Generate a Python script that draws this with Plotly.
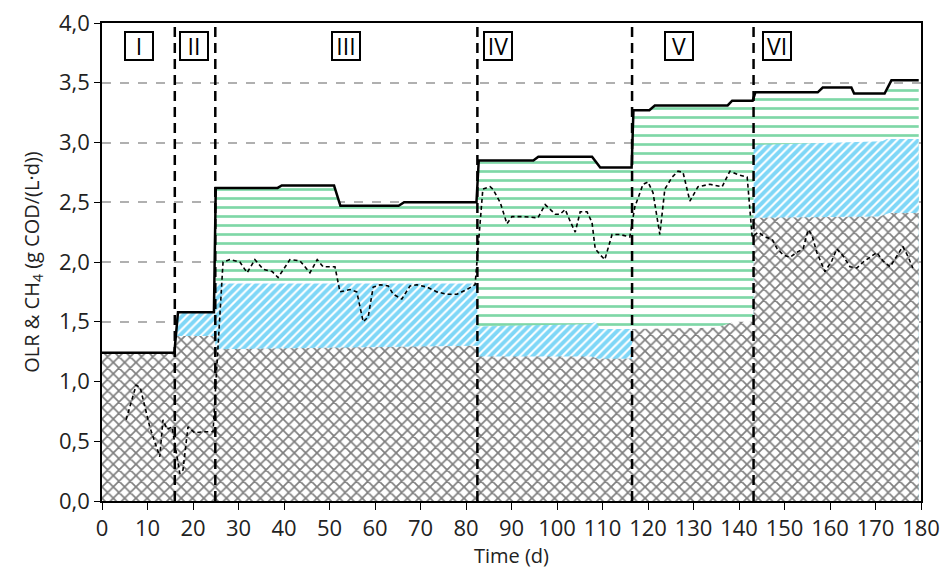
import plotly.graph_objects as go

# ---------------- data ----------------
# OLR (top solid line)
olr_x = [0, 15.9, 16.7, 24.6, 25.0, 38.6, 39.5, 51.0, 52.4, 65.2, 66.4, 82.3, 82.8, 94.8, 95.9,
         107.7, 109.5, 116.4, 116.8, 120.3, 121.5, 137.5, 138.5, 143.0, 143.6, 157.3, 158.4,
         164.7, 165.3, 172.0, 173.5, 179.5]
olr_y = [1.24, 1.24, 1.58, 1.58, 2.62, 2.62, 2.64, 2.64, 2.47, 2.47, 2.50, 2.50, 2.85, 2.85, 2.88,
         2.88, 2.79, 2.79, 3.27, 3.27, 3.31, 3.31, 3.35, 3.35, 3.42, 3.42, 3.46,
         3.46, 3.41, 3.41, 3.52, 3.52]

# top of green (horizontal dashes) layer
green_x = [25.0, 38.6, 39.5, 51.0, 52.4, 65.2, 66.4, 82.5, 82.5, 94.8, 95.9, 107.7, 109.5, 116.5,
           116.5, 120.3, 121.5, 137.5, 138.5, 143.2, 143.2, 172.0, 173.5, 179.5]
green_y = [2.61, 2.61, 2.63, 2.63, 2.46, 2.46, 2.49, 2.49, 2.84, 2.84, 2.87, 2.87, 2.78, 2.78,
           3.26, 3.26, 3.30, 3.30, 3.34, 3.34, 3.40, 3.40, 3.49, 3.49]

# top of blue (diagonal hatch) layer
blue_x = [15.9, 16.7, 24.9, 24.9, 82.5, 82.5, 107.0, 108.5, 109.5, 116.5, 116.5, 143.2, 143.2,
          171.5, 172.5, 179.5]
blue_y = [1.24, 1.58, 1.58, 1.82, 1.82, 1.46, 1.48, 1.50, 1.44, 1.44, 1.40, 1.40, 2.98,
          3.01, 3.03, 3.03]

# top of black (wavy) base layer
base_x = [0, 15.9, 16.4, 24.9, 24.9, 82.5, 82.5, 107.5, 109.0, 116.5, 116.5, 135.0, 139.0,
          143.2, 143.2, 171.0, 173.0, 179.5]
base_y = [1.24, 1.24, 1.38, 1.38, 1.27, 1.30, 1.21, 1.21, 1.19, 1.19, 1.44, 1.45, 1.50,
          1.50, 2.37, 2.38, 2.41, 2.41]

# CH4 (dashed line)
ch4_x = [5.3, 7.5, 8.4, 10.5, 12.7, 13.4, 14.3, 15.4, 17.1, 17.8, 18.9, 20.4, 22.2, 24.4, 26.6,
         27.5, 28.1, 30.3, 31.9, 33.6, 35.4, 37.4, 38.7, 41.3, 43.5, 45.7, 47.3, 48.6, 50.1, 51.2,
         52.3, 54.5, 56.0, 57.4, 58.5, 59.6, 61.1, 62.9, 64.0, 65.9, 67.7, 69.2, 71.4, 73.6, 75.8,
         78.0, 80.2, 82.0, 83.7, 85.3, 85.9, 87.5, 89.0, 90.1, 92.5, 95.8, 97.4, 99.6, 100.7,
         101.8, 102.9, 104.0, 105.1, 106.6, 107.7, 108.4, 109.5, 110.5, 112.1, 113.8, 116.0,
         117.1, 118.9, 120.0, 121.1, 122.6, 123.7, 125.3, 126.6, 127.7, 129.2, 131.0, 133.6,
         136.3, 138.0, 139.8, 141.8, 142.9, 144.2, 145.7, 147.3, 148.4, 149.7, 151.2, 152.7,
         154.1, 155.2, 156.0, 157.1, 158.9, 160.4, 161.5, 162.9, 164.4, 165.9, 167.3, 168.8,
         170.3, 171.6, 173.2, 174.7, 176.0, 177.1, 178.2]
ch4_y = [0.68, 0.97, 0.95, 0.62, 0.37, 0.68, 0.60, 0.62, 0.23, 0.26, 0.62, 0.57, 0.58, 0.58, 2.00,
         2.01, 2.02, 2.00, 1.91, 2.02, 1.94, 1.92, 1.87, 2.02, 2.01, 1.91, 2.02, 1.96, 1.96, 1.96,
         1.75, 1.77, 1.75, 1.50, 1.54, 1.79, 1.81, 1.80, 1.73, 1.69, 1.80, 1.81, 1.79, 1.75, 1.73,
         1.73, 1.77, 1.81, 2.61, 2.63, 2.61, 2.50, 2.32, 2.38, 2.38, 2.37, 2.48, 2.40, 2.40,
         2.44, 2.34, 2.25, 2.42, 2.42, 2.33, 2.11, 2.06, 2.02, 2.23, 2.23, 2.21,
         2.46, 2.65, 2.67, 2.58, 2.23, 2.61, 2.71, 2.76, 2.75, 2.51, 2.63, 2.65,
         2.63, 2.76, 2.73, 2.71, 2.21, 2.25, 2.21, 2.19, 2.11, 2.06, 2.04, 2.08,
         2.11, 2.27, 2.23, 2.08, 1.92, 2.01, 2.11, 2.05, 1.96, 1.95, 2.00, 2.04,
         2.08, 2.01, 1.96, 2.05, 2.13, 2.05, 1.95]

# phases
phase_bounds = [16.0, 24.9, 82.5, 116.5, 143.2]
phase_labels = ["I", "II", "III", "IV", "V", "VI"]
phase_label_x = [8.2, 20.3, 53.7, 87.0, 126.8, 148.4]
phase_label_y = 3.81

x_ticks = list(range(0, 181, 10))
y_ticks = [0.0, 0.5, 1.0, 1.5, 2.0, 2.5, 3.0, 3.5, 4.0]

# ---------------- figure ----------------
FONT = "Open Sans"
TICK_SIZE = 22
fig = go.Figure()

fig.add_trace(go.Scatter(
    x=green_x, y=green_y, mode="lines", line=dict(width=0), fill="tozeroy",
    fillcolor="white",
    fillpattern=dict(shape="-", fgcolor="#00B050", bgcolor="white", size=9, solidity=0.3),
    showlegend=False, hoverinfo="skip"))

fig.add_trace(go.Scatter(
    x=blue_x, y=blue_y, mode="lines", line=dict(width=0), fill="tozeroy",
    fillcolor="white",
    fillpattern=dict(shape="/", fgcolor="#00B0F0", bgcolor="white", size=6, solidity=0.65),
    showlegend=False, hoverinfo="skip"))

fig.add_trace(go.Scatter(
    x=base_x, y=base_y, mode="lines", line=dict(width=0), fill="tozeroy",
    fillcolor="white",
    fillpattern=dict(shape="x", fgcolor="black", bgcolor="white", size=8, solidity=0.38),
    showlegend=False, hoverinfo="skip"))

fig.add_trace(go.Scatter(
    x=olr_x, y=olr_y, mode="lines", line=dict(color="black", width=2.5),
    showlegend=False, name="OLR"))

fig.add_trace(go.Scatter(
    x=ch4_x, y=ch4_y, mode="lines", line=dict(color="black", width=1.6, dash="4px,3px"),
    showlegend=False, name="CH4"))

for b in phase_bounds:
    fig.add_shape(type="line", xref="x", yref="y", x0=b, x1=b, y0=0, y1=4.0,
                  line=dict(color="black", width=2.5, dash="10px,6px"), layer="above")

for lab, lx in zip(phase_labels, phase_label_x):
    fig.add_annotation(x=lx, y=phase_label_y, xref="x", yref="y", text=lab, showarrow=False,
                       font=dict(family=FONT, size=23, color="black"),
                       bordercolor="black", borderwidth=2, borderpad=1, bgcolor="white",
                       width=24, height=24)

fig.update_layout(
    width=942, height=570,
    margin=dict(l=102, r=21, t=23, b=69, autoexpand=False),
    paper_bgcolor="white", plot_bgcolor="white",
    separators=", ",
    font=dict(family=FONT, size=TICK_SIZE, color="#222"),
)

fig.update_xaxes(
    range=[0, 180], tickvals=x_ticks, ticks="outside", ticklen=7, tickcolor="black",
    showline=True, linecolor="black", linewidth=1.5, mirror=True, showgrid=False,
    zeroline=False, tickfont=dict(family=FONT, size=TICK_SIZE), automargin=False,
    title=dict(text="Time (d)", font=dict(family=FONT, size=20), standoff=0),
)
fig.update_yaxes(
    range=[0, 4.0], tickvals=y_ticks, tickformat=".1f", ticks="outside", ticklen=6,
    tickcolor="black", showline=True, linecolor="black", linewidth=1.5, mirror=True,
    showgrid=True, gridcolor="#B0B0B0", gridwidth=1.5, griddash="dash", zeroline=False,
    tickfont=dict(family=FONT, size=TICK_SIZE), automargin=False,
    title=dict(text="OLR &amp; CH<sub>4</sub> (g COD/(L·d))", font=dict(family=FONT, size=20),
               standoff=14),
)

fig.write_html("out.html")
